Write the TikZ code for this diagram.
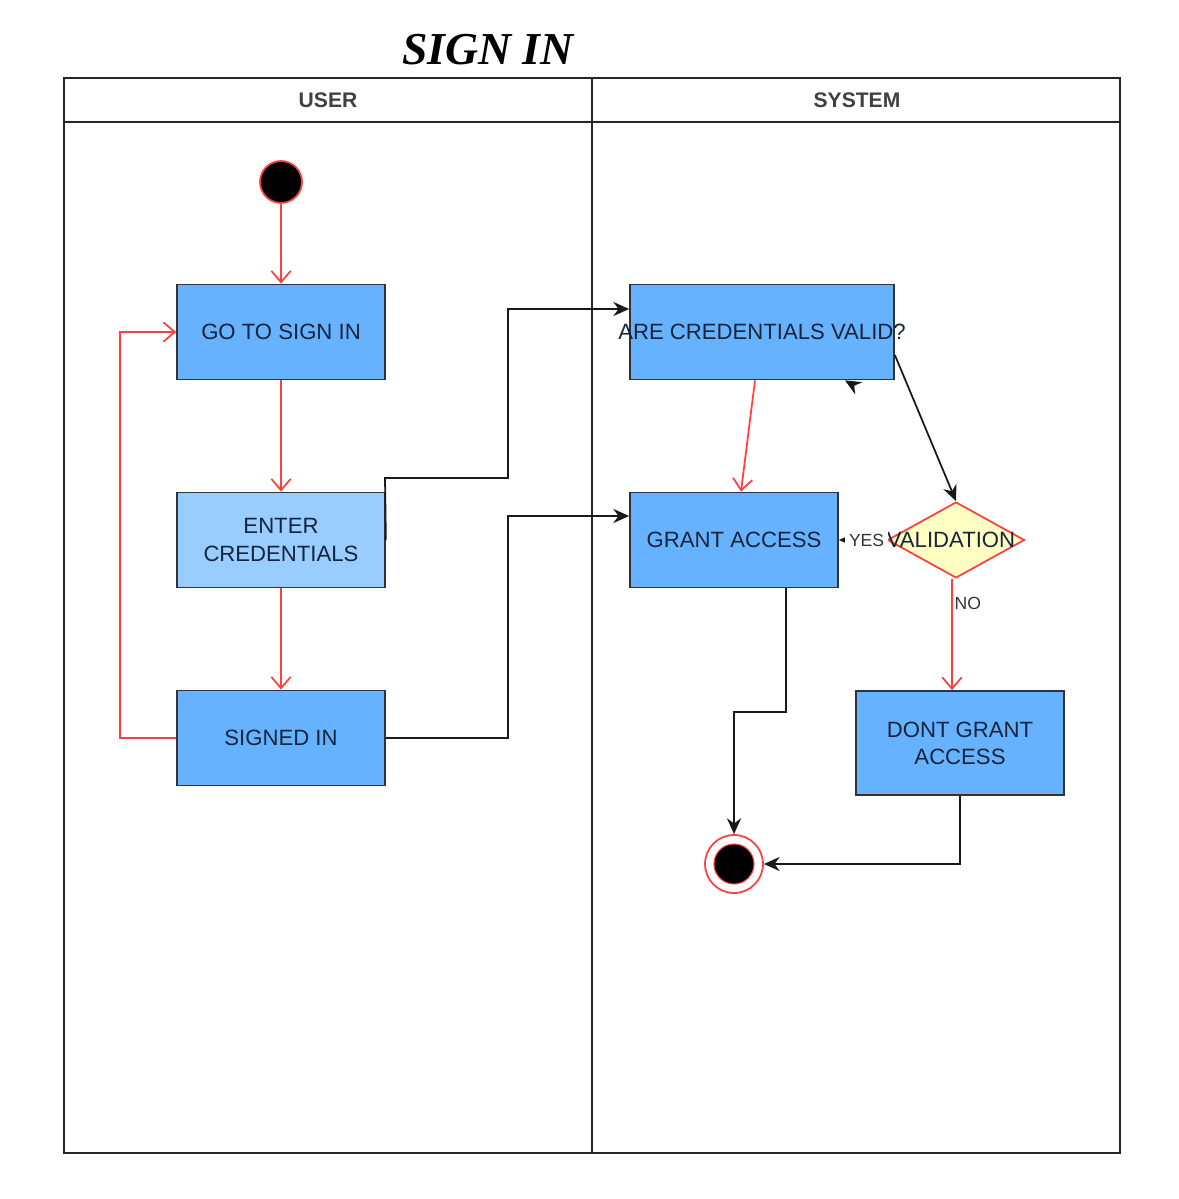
\documentclass[tikz,border=0pt]{standalone}
\usepackage{fontspec}
\setmainfont{Liberation Sans}
\newfontfamily\titlefont{Liberation Serif}
\usepackage{tikz}
\usetikzlibrary{shapes.geometric,arrows.meta}

\definecolor{boxblue}{RGB}{102,178,255}
\definecolor{paleblue}{RGB}{153,204,255}
\definecolor{boxink}{RGB}{22,36,60}
\definecolor{flowred}{RGB}{255,64,64}
\definecolor{paleyellow}{RGB}{255,255,196}

\tikzset{
  lane/.style={draw=black!85, line width=1.1pt},
  activity/.style={rectangle, draw=black!80, line width=1pt, fill=boxblue,
    minimum width=4.16cm, minimum height=1.9cm, text=boxink,
    align=center, font=\fontsize{12.6}{15.5}\selectfont},
  startdot/.style={circle, fill=black, draw=flowred, line width=1pt, minimum size=0.84cm},
  endring/.style={circle, fill=white, draw=flowred, line width=1pt, minimum size=1.16cm},
  decision/.style={diamond, draw=flowred, fill=paleyellow, line width=1pt,
    minimum width=2.74cm, minimum height=1.52cm, inner sep=0pt},
  flow/.style={draw=flowred, line width=1pt, -{Straight Barb[length=6.5pt,width=11pt]}},
  link/.style={draw=black!90, line width=1pt, -{Stealth[length=9pt,width=8pt]}},
  small/.style={font=\fontsize{10}{12}\selectfont, text=black!80}
}

\begin{document}
\begin{tikzpicture}[x=0.02cm, y=-0.02cm]
    \useasboundingbox (0,0) rectangle (1178,1199);

    % title and swimlanes
    \node (title) at (488,50) {\titlefont\bfseries\itshape\fontsize{26}{30}\selectfont SIGN IN};
    \draw[lane] (64,78) rectangle (1120,1153);
    \draw[lane] (64,122) -- (1120,122);
    \draw[lane] (592,78) -- (592,1153);
    \node[font=\bfseries\fontsize{12}{14}\selectfont, text=black!75] (userhead) at (328,100) {USER};
    \node[font=\bfseries\fontsize{12}{14}\selectfont, text=black!75] (syshead)  at (857,100) {SYSTEM};

    % user lane
    \node[startdot] (start)  at (281,182) {};
    \node[activity] (goto)   at (281,332) {GO TO SIGN IN};
    \node[activity, fill=paleblue] (enter) at (281,540) {ENTER\\CREDENTIALS};
    \node[activity] (signed) at (281,738) {SIGNED IN};

    % system lane
    \node[activity, minimum width=5.28cm,
          label={[text=boxink, font=\fontsize{12.6}{15.5}\selectfont]center:ARE CREDENTIALS VALID?}]
          (valid) at (762,332) {};
    \node[activity] (grant)  at (734,540) {GRANT ACCESS};
    \node[decision, label={[text=boxink, font=\fontsize{12.6}{15.5}\selectfont, xshift=-0.1cm]center:VALIDATION}]
          (check) at (956,540) {};
    \node[activity, minimum height=2.08cm] (deny) at (960,743) {DONT GRANT\\ACCESS};
    \node[endring] (stop) at (734,864) {};
    \node[startdot, minimum size=0.8cm, line width=0.6pt] (stopdot) at (stop) {};

    % red flow
    \draw[flow] (start) -- (goto);
    \draw[flow] (goto) -- (enter);
    \draw[flow] (enter) -- (signed);
    \draw[flow] (signed.west) -- (120,738) |- (goto.west);
    \draw[flow] (valid.south -| 755,0) -- (grant.north -| 741,0);
    \draw[flow] (check.south -| 952,0) -- node[small, anchor=west, inner sep=1pt, pos=0.22] {NO} (deny.north -| 952,0);

    % black links
    \draw[link] (enter.east) -- (385,478) -- (508,478) |- (valid.west |- 0,309);
    \draw[link] (signed.east) -| (508,516) -- (grant.west |- 0,516);
    \draw[link] (valid.east |- 0,355) -- (check.north);
    \draw[link] (check.west) -- node[small, fill=white, inner sep=2pt, pos=0.42] {YES} (grant.east);
    \draw[link] (853,385) -- (valid.south -| 845,0);
    \draw[link] (grant.south -| 786,0) -- (786,712) -| (stop.north);
    \draw[link] (deny.south) |- (stop.east);
\end{tikzpicture}
\end{document}
